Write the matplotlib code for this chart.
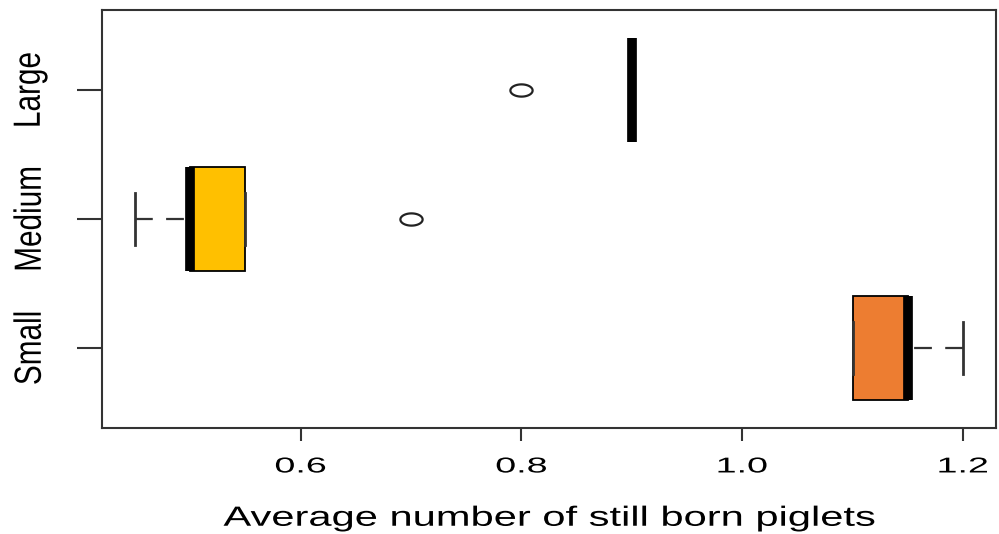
import numpy as np
import matplotlib
matplotlib.use("Agg")
import matplotlib.pyplot as plt
from matplotlib.path import Path
from matplotlib.transforms import Affine2D
from matplotlib import patheffects

# Five-number summaries (bottom to top)
groups = ["Small", "Medium", "Large"]
whislo = [1.10, 0.45, 0.90]
q1 = [1.10, 0.50, 0.90]
med = [1.15, 0.50, 0.90]
q3 = [1.15, 0.55, 0.90]
whishi = [1.20, 0.55, 0.90]
fliers = [[], [0.70], [0.80]]
fill_colors = ["#ED7D31", "#FFC000", "white"]

x_ticks = [0.6, 0.8, 1.0, 1.2]
x_tick_labels = ["0.6", "0.8", "1.0", "1.2"]
x_label = "Average number of still born piglets"

plt.rcParams["font.family"] = ["Liberation Sans", "DejaVu Sans"]


class Stretch(patheffects.AbstractPathEffect):
    """Stretch glyphs about the text centre (the reference image is wider than tall)."""

    def __init__(self, sx=1.0, sy=1.0):
        super().__init__()
        self.sx = sx
        self.sy = sy

    def draw_path(self, renderer, gc, tpath, affine, rgbFace=None):
        ext = tpath.get_extents()
        cx = (ext.x0 + ext.x1) / 2
        cy = (ext.y0 + ext.y1) / 2
        local = Affine2D().translate(-cx, -cy).scale(self.sx, self.sy).translate(cx, cy)
        renderer.draw_path(gc, tpath, local + affine, rgbFace)


# open circle squashed into an ellipse, like the outliers in the picture
t = np.linspace(0, 2 * np.pi, 80)
ellipse = Path(np.column_stack([np.cos(t), 0.55 * np.sin(t)]), closed=True)

stats = []
for i, g in enumerate(groups):
    stats.append(dict(label=g, whislo=whislo[i], q1=q1[i], med=med[i],
                      q3=q3[i], whishi=whishi[i], fliers=fliers[i]))

fig = plt.figure(figsize=(9.99, 5.34), dpi=100)
ax = fig.add_axes([102 / 999, 1 - 428 / 534, (996 - 102) / 999, (428 - 10) / 534])

positions = np.arange(1, len(groups) + 1)
bp = ax.bxp(stats, positions=positions, vert=False, widths=0.8, capwidths=0.4,
            patch_artist=True,
            boxprops=dict(edgecolor="black", linewidth=1.3),
            whiskerprops=dict(color="#333333", linewidth=1.6, linestyle=(0, (8, 6))),
            capprops=dict(color="#333333", linewidth=2.0),
            medianprops=dict(color="black", linewidth=7, solid_capstyle="butt"),
            flierprops=dict(marker=ellipse, markersize=16, markerfacecolor="none",
                            markeredgecolor="#222222", markeredgewidth=1.6, linestyle="none"))

for box, c in zip(bp["boxes"], fill_colors):
    box.set_facecolor(c)
    box.set_zorder(2)
# R draws whiskers starting at the cap and going toward the box
for w in bp["whiskers"]:
    w.set_xdata(np.asarray(w.get_xdata())[::-1])
for c in bp["caps"]:
    c.set_zorder(3)
for m in bp["medians"]:
    m.set_zorder(4)

ax.set_xlim(0.42, 1.23)
ax.set_ylim(0.38, 3.62)

ax.set_xticks(x_ticks)
ax.set_xticklabels(x_tick_labels, fontsize=15.5)
ax.set_yticks(positions)
ax.set_yticklabels(groups, fontsize=21, rotation=90, va="center")

ax.tick_params(axis="x", length=9.5, width=1.5, color="#333333", pad=11)
ax.tick_params(axis="y", length=18, width=1.5, color="#333333", pad=24)
for lab in ax.get_xticklabels():
    lab.set_path_effects([Stretch(sx=1.75)])
for lab in ax.get_yticklabels():
    lab.set_path_effects([Stretch(sx=1.02, sy=1.3)])

for s in ax.spines.values():
    s.set_linewidth(1.5)
    s.set_color("#333333")

ax.set_xlabel(x_label, fontsize=20)
ax.xaxis.set_label_coords(0.5, -0.186)
ax.xaxis.label.set_va("top")
ax.xaxis.label.set_path_effects([Stretch(sx=1.5)])

fig.savefig("out.png", dpi=100)
